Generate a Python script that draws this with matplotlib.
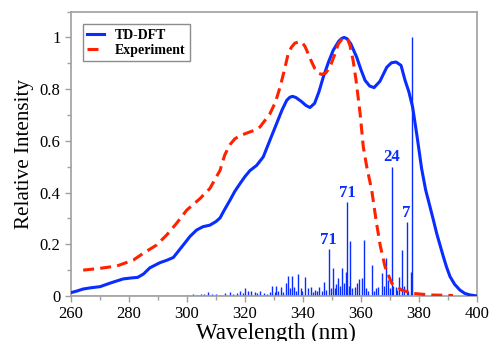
#!/usr/bin/env python3
"""TD-DFT vs experimental absorption spectrum with stick transitions"""

import matplotlib
matplotlib.use("Agg")
import matplotlib.pyplot as plt
from matplotlib.ticker import MultipleLocator

# TD-DFT broadened spectrum (nm, relative intensity)
dft_wl = [260, 262, 264.2, 267, 270, 273.8, 278, 281, 283, 285, 287.2, 290.7,
          293, 295.3, 298.7, 301, 303.3, 305.5, 307.9, 310, 311.4, 313, 314.8,
          316.5, 318.3, 320, 321.7, 324, 326.3, 328.5, 330.9, 332.8, 334.4,
          335.5, 336.4, 337.5, 339.5, 341, 342.4, 344, 345.5, 347, 348.8, 350.4,
          352.3, 353.3, 354.2, 355.2, 356.5, 358.5, 360, 361.4, 363, 364.5,
          366.5, 368.9, 370.5, 372.1, 373.8, 375.2, 376.5, 377.8, 379.3, 380.9,
          382.3, 383.8, 385, 386.1, 387.3, 388.4, 389.5, 390.7, 392.3, 394.1,
          395.8, 397.6, 400]
dft_int = [0.013, 0.019, 0.027, 0.032, 0.036, 0.051, 0.066, 0.070, 0.072, 0.085,
           0.109, 0.129, 0.138, 0.149, 0.197, 0.230, 0.255, 0.268, 0.274, 0.288,
           0.302, 0.335, 0.370, 0.405, 0.435, 0.462, 0.485, 0.505, 0.538, 0.600,
           0.667, 0.720, 0.757, 0.769, 0.772, 0.768, 0.752, 0.737, 0.729, 0.745,
           0.790, 0.847, 0.905, 0.950, 0.985, 0.996, 1.000, 0.995, 0.975, 0.924,
           0.875, 0.834, 0.812, 0.806, 0.830, 0.885, 0.902, 0.905, 0.892, 0.834,
           0.790, 0.731, 0.620, 0.493, 0.410, 0.345, 0.292, 0.242, 0.195, 0.152,
           0.112, 0.075, 0.045, 0.023, 0.010, 0.004, 0.0]

# experimental spectrum
exp_wl = [264.2, 270, 275.8, 281.5, 284.9, 289.5, 293, 296.4, 299.9, 304.5,
          307.9, 311.4, 313, 314.8, 316.5, 318.3, 320.6, 323, 325.2, 328.6,
          330.5, 332.1, 333.5, 334.9, 336, 337.2, 338.5, 339.6, 340.7, 341.8,
          343, 344.1, 345.3, 346.4, 347.8, 349.3, 350.8, 352.2, 353.5, 354.5,
          355.4, 356.2, 357.3, 358.3, 359.7, 360.8, 362, 363.7, 365.2, 366.6,
          368.3, 370.6, 374, 378, 383.8, 391.7]
exp_int = [0.100, 0.107, 0.116, 0.139, 0.165, 0.197, 0.236, 0.281, 0.332, 0.377,
           0.416, 0.486, 0.545, 0.585, 0.608, 0.620, 0.630, 0.640, 0.654, 0.705,
           0.750, 0.808, 0.870, 0.937, 0.962, 0.978, 0.983, 0.982, 0.965, 0.937,
           0.905, 0.879, 0.862, 0.857, 0.862, 0.885, 0.930, 0.976, 0.994, 0.999,
           0.992, 0.969, 0.910, 0.834, 0.705, 0.576, 0.499, 0.409, 0.293, 0.197,
           0.113, 0.049, 0.023, 0.010, 0.004, 0.002]

# TD-DFT transitions (sticks)
stick_wl = [300.5, 302, 303.5, 305, 306, 307.1, 308.5, 310, 311.5, 313, 314.8,
            316, 317.2, 318.3, 319.2, 320.1, 321.1, 322.1, 323.4, 324.3, 325.2,
            326.6, 327.5, 328.5, 329.4, 330.2, 330.7, 331.5, 332.3, 333.2, 334.0,
            335.0, 335.6, 336.2, 337.0, 337.7, 338.4, 339.2, 339.8, 340.7, 341.8,
            342.8, 343.5, 344.1, 345.0, 345.6, 346.4, 347.2, 348.0, 348.9, 349.5,
            350.2, 350.9, 351.4, 352.0, 352.8, 353.6, 354.2, 354.7, 355.2, 355.8,
            356.3, 357.0, 357.9, 358.5, 359.3, 360.2, 361.1, 361.8, 362.5, 363.7,
            364.5, 365.2, 366.0, 367.1, 367.8, 368.7, 369.4, 370.0, 370.6, 371.2,
            371.9, 372.5, 373.1, 374.1, 374.8, 375.7, 376.3, 377.1, 377.6]
stick_int = [0.004, 0.006, 0.005, 0.008, 0.006, 0.014, 0.006, 0.008, 0.005, 0.010,
             0.017, 0.008, 0.012, 0.018, 0.012, 0.031, 0.020, 0.020, 0.016, 0.010,
             0.020, 0.012, 0.008, 0.015, 0.039, 0.015, 0.039, 0.020, 0.034, 0.015,
             0.050, 0.076, 0.030, 0.078, 0.036, 0.020, 0.084, 0.030, 0.020, 0.075,
             0.030, 0.033, 0.015, 0.025, 0.020, 0.034, 0.020, 0.055, 0.025, 0.181,
             0.030, 0.107, 0.030, 0.045, 0.068, 0.040, 0.107, 0.050, 0.094, 0.363,
             0.040, 0.212, 0.030, 0.036, 0.050, 0.064, 0.070, 0.216, 0.030, 0.020,
             0.120, 0.020, 0.030, 0.036, 0.089, 0.040, 0.145, 0.060, 0.030, 0.500,
             0.040, 0.036, 0.025, 0.075, 0.178, 0.040, 0.285, 0.020, 0.094, 1.000]

# labelled transitions
label_text = ["71", "71", "24", "7"]
label_wl = [348.9, 355.2, 370.6, 375.7]
label_int = [0.181, 0.363, 0.500, 0.285]

BLUE = "#0a2dff"
RED = "#ff2200"
FRAME = "#a0a0a0"


def YFmt(v, _):
    if abs(v) < 1e-9:
        return "0"
    if abs(v - 1) < 1e-9:
        return "1"
    return f"{v:.1f}"


plt.rcParams["font.family"] = ["Liberation Serif", "DejaVu Serif"]

fig = plt.figure(figsize=(4.92, 3.41), dpi=100)
ax = fig.add_axes([0.1443, 0.132, 0.8252, 0.834])

ax.vlines(stick_wl, 0, stick_int, color=BLUE, linewidth=1.0, zorder=2)
ax.hlines(0, 260, max(stick_wl), color=BLUE, linewidth=1.0, zorder=2)
ax.plot(dft_wl, dft_int, color=BLUE, linewidth=2.2, label="TD-DFT", zorder=3)
ax.plot(exp_wl, exp_int, color=RED, linewidth=2.2, linestyle=(0, (3.6, 2.0)),
        label="Experiment", zorder=4)

for txt, x, y in zip(label_text, label_wl, label_int):
    ax.text(x, y + 0.006, txt, color=BLUE, fontsize=12, fontweight="bold",
            ha="center", va="bottom")

ax.set_xlim(260, 400)
ax.set_ylim(0, 1.1)
ax.xaxis.set_major_locator(MultipleLocator(20))
ax.xaxis.set_minor_locator(MultipleLocator(10))
ax.yaxis.set_major_locator(MultipleLocator(0.2))
ax.yaxis.set_minor_locator(MultipleLocator(0.1))
ax.yaxis.set_major_formatter(plt.FuncFormatter(YFmt))

for sp in ax.spines.values():
    sp.set_color(FRAME)
    sp.set_linewidth(1.2)
ax.tick_params(which="major", direction="out", length=4.5, width=1.0,
               color=FRAME, labelsize=12)
ax.tick_params(axis="x", which="major", pad=2.5)
ax.tick_params(axis="y", which="major", pad=3)
ax.tick_params(which="minor", direction="out", length=3, width=1.0, color=FRAME)

ax.set_xlabel("Wavelength (nm)", fontsize=16.6, va="baseline")
ax.xaxis.set_label_coords(0.504, -0.15)
ax.set_ylabel("Relative Intensity", fontsize=15.2, va="baseline")
ax.yaxis.set_label_coords(-0.1034, 0.5)

leg = ax.legend(loc="upper left", bbox_to_anchor=(0.03, 0.955), frameon=True,
                fancybox=False, handlelength=1.2, handletextpad=0.8,
                borderpad=0.3, labelspacing=0.15, borderaxespad=0,
                prop={"family": ["Liberation Serif"], "weight": "bold", "size": 10})
leg.get_frame().set_edgecolor("#707070")
leg.get_frame().set_linewidth(1.0)

fig.savefig("out.png", dpi=100)
